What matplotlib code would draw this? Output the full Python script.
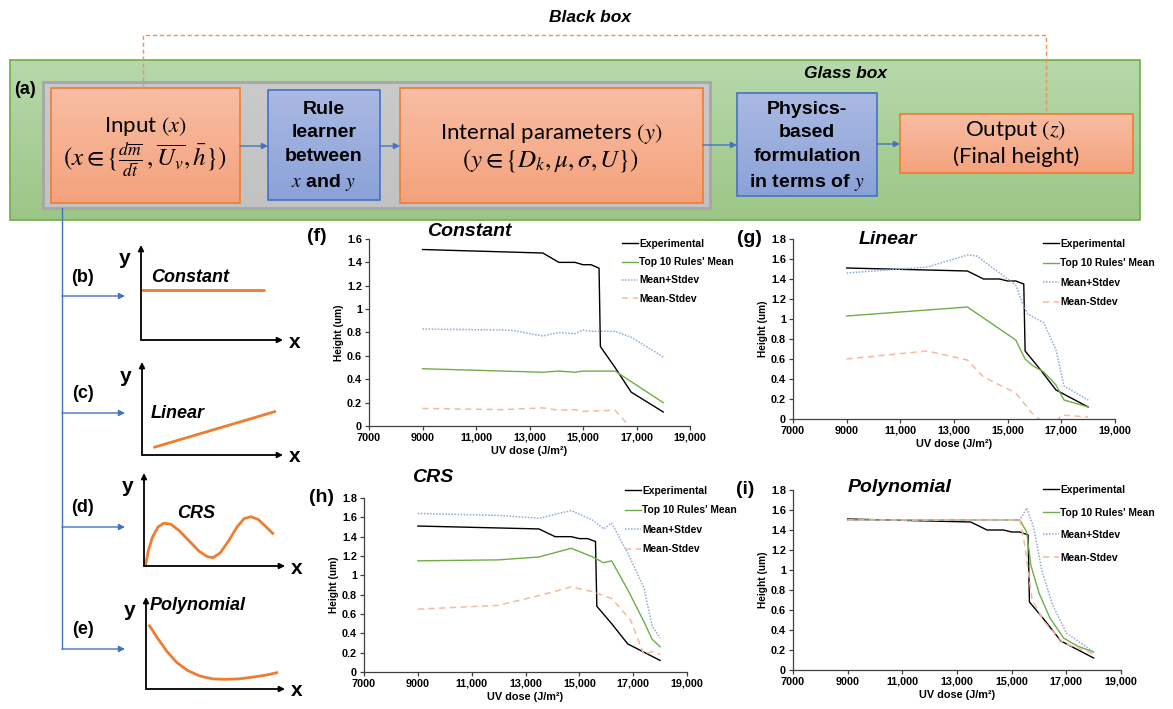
import numpy as np
import matplotlib.pyplot as plt
from matplotlib.patches import Rectangle
from matplotlib.colors import LinearSegmentedColormap

plt.rcParams['font.family'] = ['Liberation Sans', 'DejaVu Sans']
plt.rcParams['mathtext.fontset'] = 'stix'

# UV dose (J/m^2) and measured height (um)
dose_exp = [9000, 13500, 14100, 14700, 15000, 15300, 15600, 15650, 16200, 16800, 18000]
height_exp = [1.51, 1.48, 1.40, 1.40, 1.38, 1.38, 1.35, 0.68, 0.50, 0.29, 0.12]

# constant rule
const_mean_x = [9000, 13500, 14100, 14700, 15000, 16200, 18000]
const_mean_y = [0.49, 0.46, 0.47, 0.46, 0.47, 0.47, 0.20]
const_up_x = [9000, 12300, 13500, 14100, 14700, 15000, 15300, 16200, 16800, 18000]
const_up_y = [0.83, 0.82, 0.77, 0.80, 0.79, 0.82, 0.81, 0.81, 0.76, 0.59]
const_lo_x = [9000, 12000, 13500, 14100, 14700, 15000, 16200, 16800, 18000]
const_lo_y = [0.15, 0.14, 0.155, 0.135, 0.14, 0.125, 0.135, -0.02, -0.30]

# linear rule
lin_mean_x = [9000, 13500, 15300, 15650, 15950, 16350, 16800, 17100, 18000]
lin_mean_y = [1.03, 1.12, 0.79, 0.60, 0.53, 0.47, 0.34, 0.19, 0.12]
lin_up_x = [9000, 12000, 13500, 13850, 15300, 15550, 15750, 16350, 16800, 17100, 18000]
lin_up_y = [1.46, 1.52, 1.64, 1.63, 1.34, 1.16, 1.05, 0.96, 0.69, 0.33, 0.19]
lin_lo_x = [9000, 12000, 13500, 14100, 15300, 15600, 15900, 16300, 16800, 17000, 18000]
lin_lo_y = [0.60, 0.68, 0.59, 0.42, 0.26, 0.16, 0.06, -0.03, -0.03, 0.04, 0.02]

# CRS rule
crs_mean_x = [9000, 12000, 13500, 14700, 15500, 15900, 16200, 16800, 17400, 17700, 18000]
crs_mean_y = [1.15, 1.16, 1.19, 1.28, 1.19, 1.13, 1.15, 0.85, 0.52, 0.34, 0.26]
crs_up_x = [9000, 12000, 13500, 14700, 15500, 15900, 16200, 16800, 17400, 17700, 18000]
crs_up_y = [1.64, 1.62, 1.59, 1.67, 1.57, 1.48, 1.54, 1.23, 0.87, 0.48, 0.35]
crs_lo_x = [9000, 12000, 13500, 14700, 15500, 16200, 16900, 17400, 17700, 18000]
crs_lo_y = [0.65, 0.69, 0.79, 0.88, 0.83, 0.76, 0.54, 0.18, 0.21, 0.18]

# polynomial rule
poly_mean_x = [9000, 15300, 15550, 15700, 16000, 16400, 16900, 17400, 18000]
poly_mean_y = [1.50, 1.50, 1.38, 1.05, 0.77, 0.52, 0.32, 0.24, 0.18]
poly_up_x = [9000, 15300, 15550, 15800, 16100, 16500, 17000, 18000]
poly_up_y = [1.50, 1.50, 1.62, 1.43, 1.00, 0.65, 0.37, 0.18]
poly_lo_x = [9000, 15300, 15450, 15750, 16200, 16900, 18000]
poly_lo_y = [1.50, 1.50, 1.30, 0.70, 0.48, 0.27, 0.16]

dose_ticks = [7000, 9000, 11000, 13000, 15000, 17000, 19000]
dose_labels = ['7000', '9000', '11,000', '13,000', '15,000', '17,000', '19,000']
legend_names = ['Experimental', "Top 10 Rules' Mean", 'Mean+Stdev', 'Mean-Stdev']

# sketches of the rule shapes (arbitrary units 0-10)
sk_const_x = [0, 8.7]
sk_const_y = [5.3, 5.3]
sk_lin_x = [0.8, 9.5]
sk_lin_y = [0.8, 4.7]
sk_crs_x = [0.1, 0.3, 0.6, 1.0, 1.4, 1.9, 2.5, 3.2, 3.9, 4.5, 4.9, 5.4, 6.0, 6.6, 7.1, 7.6, 8.1, 8.6, 9.2]
sk_crs_y = [0.0, 1.6, 3.1, 4.2, 4.6, 4.5, 3.8, 2.7, 1.6, 1.0, 0.9, 1.4, 2.7, 4.2, 5.1, 5.3, 5.0, 4.3, 3.4]
sk_poly_x = [0.2, 0.8, 1.5, 2.2, 3.0, 3.9, 4.8, 5.7, 6.7, 7.7, 8.6, 9.5]
sk_poly_y = [7.0, 5.6, 4.1, 2.9, 2.0, 1.4, 1.1, 1.05, 1.1, 1.3, 1.5, 1.8]

W, H = 1173, 709
fig = plt.figure(figsize=(W / 100, H / 100), dpi=100)


def px_rect(l, t, r, b):
    return [l / W, 1 - b / H, (r - l) / W, (b - t) / H]


ax0 = fig.add_axes([0, 0, 1, 1], zorder=0)
ax0.set_xlim(0, W)
ax0.set_ylim(H, 0)
ax0.axis('off')


def grad_box(x0, y0, x1, y1, top, bottom, edge, lw=1.0, z=1):
    cmap = LinearSegmentedColormap.from_list('g', [top, bottom])
    ax0.imshow(np.linspace(0, 1, 64).reshape(-1, 1), cmap=cmap, aspect='auto',
               extent=(x0, x1, y1, y0), zorder=z, interpolation='bilinear')
    ax0.add_patch(Rectangle((x0, y0), x1 - x0, y1 - y0, fill=False,
                            edgecolor=edge, lw=lw, zorder=z + 0.1))


ORANGE = ('#F8BDA3', '#F4A27C', '#ED7D31')
BLUE = ('#AAB9E2', '#8BA2D8', '#4472C4')

grad_box(10, 60, 1140, 220, '#B7D8AA', '#9CC687', '#70AD47', 1.2, 1)
grad_box(43, 82, 710, 208, '#CACACA', '#C2C2C2', '#A6A6A6', 2.0, 2)
grad_box(51, 88, 240, 203, *ORANGE, 1.2, 3)
grad_box(268, 90, 380, 200, *BLUE, 1.2, 3)
grad_box(400, 88, 703, 203, *ORANGE, 1.2, 3)
grad_box(737, 93, 877, 196, *BLUE, 1.2, 3)
grad_box(900, 114, 1133, 173, *ORANGE, 1.2, 3)
ax0.set_xlim(0, W)
ax0.set_ylim(H, 0)

# black box link
ax0.plot([143, 143, 1046, 1046], [88, 35, 35, 114], ls=(0, (3, 2)), color='#F0924F', lw=1, zorder=4)

for xa, xb, y in [(240, 268, 146), (380, 400, 146), (703, 737, 145), (877, 900, 144)]:
    ax0.annotate('', xy=(xb, y), xytext=(xa, y),
                 arrowprops=dict(arrowstyle='-|>', color='#4472C4', lw=1, mutation_scale=9,
                                 shrinkA=0, shrinkB=0), zorder=5)

box_font = ['Lato', 'DejaVu Sans']
ax0.text(145, 126, 'Input $(x)$', ha='center', va='center', fontsize=16, family=box_font, zorder=6)
ax0.text(145, 160, r'$(x \in \{\frac{d\overline{m}}{d\bar{t}}\,, \overline{U_v}, \bar{h}\})$',
         ha='center', va='center', fontsize=18, zorder=6)
ax0.text(551, 133, 'Internal parameters $(y)$', ha='center', va='center', fontsize=16,
         family=box_font, zorder=6)
ax0.text(551, 161, r'$(y \in \{D_k, \mu, \sigma, U\})$', ha='center', va='center', fontsize=18, zorder=6)
ax0.text(1016, 130, 'Output $(z)$', ha='center', va='center', fontsize=16, family=box_font, zorder=6)
ax0.text(1016, 157, '(Final height)', ha='center', va='center', fontsize=16, family=box_font, zorder=6)
ax0.text(324, 147, 'Rule\nlearner\nbetween\n$x$ and $y$', ha='center', va='center', fontsize=14,
         fontweight='bold', linespacing=1.5, zorder=6)
ax0.text(807, 147, 'Physics-\nbased\nformulation\nin terms of $y$', ha='center', va='center',
         fontsize=14, fontweight='bold', linespacing=1.5, zorder=6)
ax0.text(590, 18, 'Black box', ha='center', va='center', fontsize=12.5, fontweight='bold',
         style='italic', zorder=6)
ax0.text(845, 73, 'Glass box', ha='center', va='center', fontsize=12.5, fontweight='bold',
         style='italic', zorder=6)
ax0.text(25, 90, '(a)', ha='center', va='center', fontsize=13, fontweight='bold', zorder=6)

# branch to the rule shapes
ax0.plot([62, 62], [208, 649], color='#4472C4', lw=1, zorder=4)
for y, lab in [(296, '(b)'), (413, '(c)'), (527, '(d)'), (649, '(e)')]:
    ax0.annotate('', xy=(125, y), xytext=(62, y),
                 arrowprops=dict(arrowstyle='-|>', color='#4472C4', lw=1, mutation_scale=9,
                                 shrinkA=0, shrinkB=0), zorder=5)
    ax0.text(83, y - 19, lab, ha='center', va='center', fontsize=13, fontweight='bold', zorder=6)


def sketch(rect, xs, ys, title, tx, ty):
    l, t, r, b = rect
    ax = fig.add_axes(px_rect(l, t, r, b), zorder=2)
    ax.set_xlim(0, 10)
    ax.set_ylim(0, 10)
    ax.axis('off')
    ax.patch.set_visible(False)
    ax.plot(xs, ys, color='#ED7D31', lw=2, clip_on=False, solid_capstyle='butt')
    for end in [(1, 0), (0, 1)]:
        ax.annotate('', xy=end, xytext=(0, 0), xycoords='axes fraction',
                    arrowprops=dict(arrowstyle='-|>', color='black', lw=1.3, mutation_scale=8,
                                    shrinkA=0, shrinkB=0))
    ax0.text(l - 16, t + 14, 'y', ha='center', va='center', fontsize=15, fontweight='bold')
    ax0.text(r + 12, b + 2, 'x', ha='center', va='center', fontsize=15, fontweight='bold')
    ax0.text(tx, ty, title, ha='left', va='center', fontsize=13, fontweight='bold', style='italic')


sketch((141, 245, 283, 340), sk_const_x, sk_const_y, 'Constant', 151, 278)
sketch((142, 362, 283, 455), sk_lin_x, sk_lin_y, 'Linear', 151, 414)
sketch((144, 473, 285, 566), sk_crs_x, sk_crs_y, 'CRS', 177, 513)
sketch((146, 597, 285, 689), sk_poly_x, sk_poly_y, 'Polynomial', 150, 606)


def chart(rect, ymax, series, title, title_xy, tag, tag_xy, leg_xy, leg_space):
    l, t, r, b = rect
    ax = fig.add_axes(px_rect(l, t, r, b), zorder=3)
    ax.patch.set_visible(False)
    styles = [dict(color='black', lw=1.0),
              dict(color='#70AD47', lw=1.0),
              dict(color='#8FAADC', lw=1.1, ls=(0, (1, 1))),
              dict(color='#F8B89A', lw=1.1, ls=(0, (4, 3)))]
    handles = []
    for (xs, ys), st, name in zip(series, styles, legend_names):
        h, = ax.plot(xs, ys, label=name, **st)
        handles.append(h)
    ax.set_xlim(7000, 19000)
    ax.set_ylim(0, ymax)
    ax.set_xticks(dose_ticks)
    ax.set_xticklabels(dose_labels)
    yt = np.arange(0, ymax + 0.01, 0.2)
    ax.set_yticks(yt)
    ax.set_yticklabels(['0', '0.2', '0.4', '0.6', '0.8', '1', '1.2', '1.4', '1.6', '1.8'][:len(yt)])
    for s in ['top', 'right']:
        ax.spines[s].set_visible(False)
    for s in ['left', 'bottom']:
        ax.spines[s].set_color('#404040')
        ax.spines[s].set_linewidth(0.9)
    ax.tick_params(length=3, width=0.9, color='#404040', labelsize=7.8, pad=2)
    for lbl in ax.get_xticklabels() + ax.get_yticklabels():
        lbl.set_fontweight('bold')
    ax.set_xlabel('UV dose (J/m²)', fontsize=7.8, fontweight='bold', labelpad=2)
    ax.set_ylabel('Height (um)', fontsize=7.3, fontweight='bold', labelpad=2)
    ax.legend(handles=handles, loc='upper left', bbox_to_anchor=(leg_xy[0] / W, 1 - leg_xy[1] / H),
              bbox_transform=fig.transFigure, frameon=False, prop=dict(size=7.4, weight='bold'),
              handlelength=1.6, handletextpad=0.1, borderpad=0, borderaxespad=0,
              labelspacing=leg_space)
    fig.text(title_xy[0] / W, 1 - title_xy[1] / H, title, ha='center', va='center',
             fontsize=14, fontweight='bold', style='italic')
    fig.text(tag_xy[0] / W, 1 - tag_xy[1] / H, tag, ha='center', va='center',
             fontsize=14, fontweight='bold')


chart((369, 239, 690, 426), 1.6,
      [(dose_exp, height_exp), (const_mean_x, const_mean_y), (const_up_x, const_up_y), (const_lo_x, const_lo_y)],
      'Constant', (469, 232), '(f)', (317, 237), (622, 239), 0.8)
chart((793, 239, 1115, 419), 1.8,
      [(dose_exp, height_exp), (lin_mean_x, lin_mean_y), (lin_up_x, lin_up_y), (lin_lo_x, lin_lo_y)],
      'Linear', (888, 240), '(g)', (749, 239), (1043, 239), 0.92)
chart((364, 498, 687, 672), 1.8,
      [(dose_exp, height_exp), (crs_mean_x, crs_mean_y), (crs_up_x, crs_up_y), (crs_lo_x, crs_lo_y)],
      'CRS', (433, 478), '(h)', (322, 497), (625, 486), 0.92)
chart((793, 490, 1121, 670), 1.8,
      [(dose_exp, height_exp), (poly_mean_x, poly_mean_y), (poly_up_x, poly_up_y), (poly_lo_x, poly_lo_y)],
      'Polynomial', (900, 487), '(i)', (745, 490), (1043, 485), 1.22)

fig.savefig('out.png', dpi=100)
